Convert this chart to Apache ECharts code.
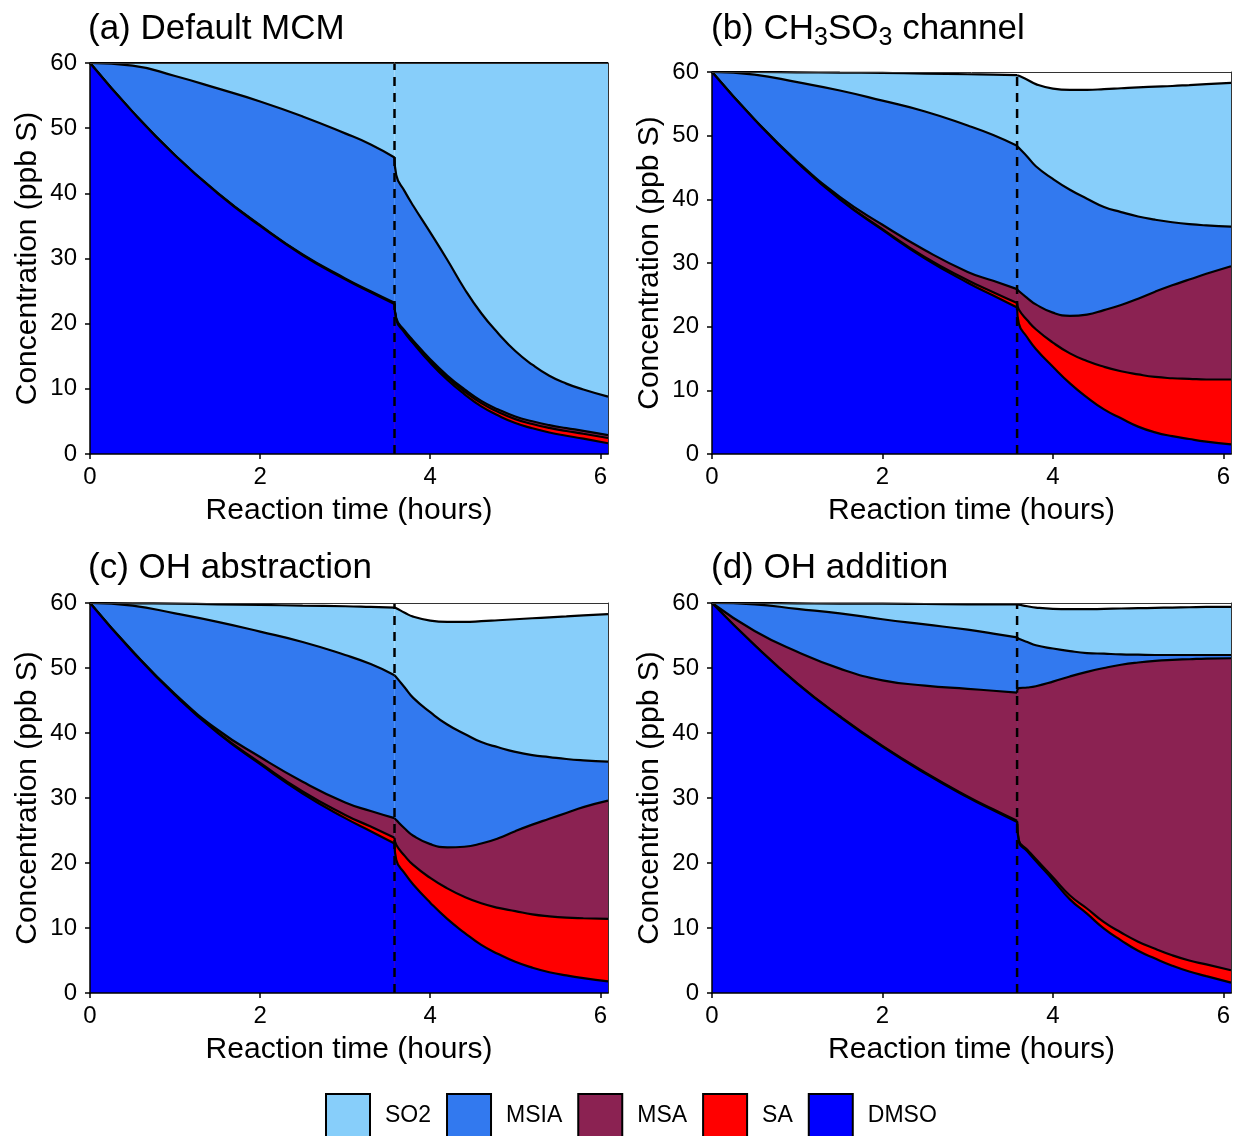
<!DOCTYPE html>
<html><head><meta charset="utf-8">
<script src="https://cdn.jsdelivr.net/npm/echarts@6/dist/echarts.min.js"></script>
<style>html,body{margin:0;padding:0;background:#fff}#c{width:1236px;height:1136px}</style>
</head><body><div id="c"></div>
<script>
// ---- data ----
const hours = [0, 0.5, 1, 1.5, 2, 2.5, 3, 3.3, 3.58, 3.6, 3.7, 3.8, 4.0, 4.2, 4.4, 4.6, 4.8, 5.0, 5.2, 5.4, 5.6, 5.8, 6.09];
const switchTime = 3.58;
const xTicks = [0, 2, 4, 6];
const speciesNames = ['SO2', 'MSIA', 'MSA', 'SA', 'DMSO'];
const panelTitles = ['(a) Default MCM', '(b) CH{s|3}SO{s|3} channel', '(c) OH abstraction', '(d) OH addition'];

// (a) Default MCM
const dmsoA = [60, 52.5, 45.8, 40.0, 35.0, 30.5, 26.8, 24.8, 23.0, 20.6, 18.6, 17.0, 14.0, 11.4, 9.2, 7.3, 5.9, 4.75, 3.95, 3.3, 2.8, 2.35, 1.65];
const saA   = [0, 0, 0, 0, 0, 0, 0, 0, 0.02, 0.05, 0.1, 0.15, 0.25, 0.35, 0.42, 0.5, 0.55, 0.6, 0.65, 0.7, 0.73, 0.76, 0.8];
const msaA  = [0, 0.02, 0.05, 0.08, 0.1, 0.12, 0.15, 0.17, 0.18, 0.2, 0.22, 0.25, 0.28, 0.3, 0.33, 0.35, 0.38, 0.4, 0.42, 0.43, 0.44, 0.45, 0.45];
const msiaA = [0, 7.08, 12.15, 16.02, 19.0, 21.18, 22.25, 22.53, 22.3, 21.95, 21.38, 20.7, 19.47, 17.75, 15.45, 13.45, 11.67, 10.05, 8.68, 7.57, 6.83, 6.34, 5.9];
const so2A  = [0, 0.4, 2.0, 3.9, 5.9, 8.2, 10.8, 12.5, 14.5, 17.2, 19.7, 21.9, 26.0, 30.2, 34.6, 38.4, 41.5, 44.2, 46.3, 48.0, 49.2, 50.1, 51.2];

// (b) CH3SO3 channel
const dmsoB = [60, 52.5, 45.8, 40.0, 35.2, 30.7, 26.9, 24.9, 23.0, 20.5, 18.3, 16.5, 13.7, 11.1, 8.9, 7.0, 5.6, 4.3, 3.4, 2.8, 2.35, 1.95, 1.5];
const saB   = [0, 0, 0, 0.05, 0.1, 0.2, 0.4, 0.5, 0.7, 2.2, 2.7, 3.1, 3.8, 4.7, 5.7, 6.7, 7.4, 8.2, 8.7, 9.1, 9.45, 9.75, 10.2];
const msaB  = [0, 0.05, 0.15, 0.35, 0.7, 1.1, 1.3, 1.8, 2.2, 2.9, 3.5, 3.9, 4.7, 5.9, 7.3, 8.9, 10.4, 11.9, 13.4, 14.6, 15.6, 16.6, 17.8];
const msiaB = [0, 7.05, 12.45, 16.7, 19.5, 21.8, 23.0, 22.9, 22.5, 22.5, 22.2, 21.7, 21.0, 19.8, 18.2, 16.2, 14.6, 12.9, 11.3, 9.9, 8.7, 7.6, 6.2];
const so2B  = [0, 0.4, 1.55, 2.8, 4.35, 5.95, 8.05, 9.5, 11.1, 11.3, 12.1, 12.9, 14.2, 15.7, 17.1, 18.5, 19.45, 20.3, 20.9, 21.4, 21.85, 22.2, 22.6];

// (c) OH abstraction
const dmsoC = [60, 52.5, 45.8, 40.0, 35.2, 30.7, 26.9, 24.9, 23.0, 20.5, 18.4, 16.7, 13.9, 11.4, 9.3, 7.4, 6.0, 4.8, 3.9, 3.2, 2.7, 2.3, 1.8];
const saC   = [0, 0, 0.05, 0.1, 0.2, 0.3, 0.5, 0.7, 0.9, 2.3, 2.7, 3.0, 3.8, 4.7, 5.5, 6.4, 7.1, 7.8, 8.2, 8.6, 8.9, 9.2, 9.6];
const msaC  = [0, 0.1, 0.15, 0.4, 0.9, 1.5, 1.9, 2.4, 3.0, 3.8, 4.2, 4.5, 5.2, 6.3, 7.7, 9.2, 10.7, 12.3, 13.8, 15.0, 16.1, 17.1, 18.2];
const msiaC = [0, 7.0, 12.4, 16.6, 19.3, 21.5, 22.7, 22.6, 22.0, 22.0, 21.7, 21.2, 20.3, 18.9, 17.4, 15.6, 14.0, 12.2, 10.7, 9.5, 8.3, 7.2, 6.0];
const so2C  = [0, 0.35, 1.5, 2.7, 4.1, 5.6, 7.5, 8.8, 10.4, 10.6, 11.5, 12.5, 14.1, 15.8, 17.2, 18.6, 19.55, 20.4, 21.05, 21.5, 21.95, 22.3, 22.7];

// (d) OH addition
const dmsoD = [60, 53.5, 47.6, 42.5, 37.9, 33.8, 30.1, 28.1, 26.3, 23.3, 21.8, 20.3, 17.4, 14.4, 12.2, 9.9, 8.1, 6.5, 5.3, 4.2, 3.3, 2.6, 1.6];
const saD   = [0, 0.02, 0.05, 0.08, 0.1, 0.12, 0.15, 0.17, 0.2, 0.2, 0.25, 0.3, 0.4, 0.6, 0.8, 1.0, 1.2, 1.4, 1.5, 1.6, 1.7, 1.8, 1.9];
const msaD  = [0, 2.18, 4.85, 7.32, 10.1, 13.38, 16.55, 18.23, 19.7, 23.4, 24.95, 26.6, 30.1, 33.7, 36.4, 39.1, 41.2, 42.95, 44.3, 45.45, 46.35, 47.05, 48.0];
const msiaD = [0, 4.1, 6.6, 8.5, 9.4, 9.4, 9.1, 8.8, 8.5, 7.6, 7.0, 6.3, 5.1, 3.9, 2.9, 2.2, 1.6, 1.2, 0.9, 0.75, 0.65, 0.55, 0.5];
const so2D  = [0, 0.2, 0.85, 1.5, 2.4, 3.15, 3.9, 4.5, 5.1, 5.25, 5.5, 5.8, 6.1, 6.45, 6.75, 6.9, 7.05, 7.15, 7.25, 7.3, 7.35, 7.4, 7.4];

// ---- styling ----
const FONT = 'Liberation Sans, Arial, sans-serif';
const speciesColors = { SO2: '#87CEFA', MSIA: '#3279EF', MSA: '#8B2252', SA: '#FF0000', DMSO: '#0000FF' };
const panels = [
  { dmso: dmsoA, sa: saA, msa: msaA, msia: msiaA, so2: so2A },
  { dmso: dmsoB, sa: saB, msa: msaB, msia: msiaB, so2: so2B },
  { dmso: dmsoC, sa: saC, msa: msaC, msia: msiaC, so2: so2C },
  { dmso: dmsoD, sa: saD, msa: msaD, msia: msiaD, so2: so2D }
];
const grids = [
  { left: 90, top: 63, width: 518, height: 391 },
  { left: 712, top: 72, width: 519, height: 382 },
  { left: 90, top: 603, width: 518, height: 390 },
  { left: 712, top: 603, width: 519, height: 390 }
];
const titlePos = [
  { left: 88, top: 12 }, { left: 711, top: 12 }, { left: 88, top: 551 }, { left: 711, top: 551 }
];
const XMAX = 6.09;
const splitIdx = hours.indexOf(switchTime);

const xAxes = [], yAxes = [], series = [], titles = [];
grids.forEach((g, i) => {
  xAxes.push({
    type: 'value', gridIndex: i, min: 0, max: XMAX, interval: 2, z: 10,
    axisLine: { onZero: false, lineStyle: { color: '#000', width: 1.5 } },
    axisTick: { length: 5, customValues: xTicks, lineStyle: { color: '#000', width: 1.5 } },
    axisLabel: { customValues: xTicks, color: '#000', fontSize: 24, fontFamily: FONT, margin: 11,
      formatter: v => (Number.isInteger(v) ? String(v) : '') },
    splitLine: { show: false },
    name: 'Reaction time (hours)', nameLocation: 'middle', nameGap: 42,
    nameTextStyle: { fontSize: 30, color: '#000', fontFamily: FONT }
  });
  xAxes.push({
    type: 'value', gridIndex: i, position: 'top', min: 0, max: XMAX, z: 10,
    axisLine: { onZero: false, lineStyle: { color: '#333', width: 1 } },
    axisTick: { show: false }, axisLabel: { show: false }, splitLine: { show: false }
  });
  yAxes.push({
    type: 'value', gridIndex: i, min: 0, max: 60, interval: 10, z: 10,
    axisLine: { onZero: false, lineStyle: { color: '#000', width: 1.5 } },
    axisTick: { length: 5, lineStyle: { color: '#000', width: 1.5 } },
    axisLabel: { color: '#000', fontSize: 24, fontFamily: FONT, margin: 13 },
    splitLine: { show: false },
    name: 'Concentration (ppb S)', nameLocation: 'middle', nameGap: 47,
    nameTextStyle: { fontSize: 30, color: '#000', fontFamily: FONT }
  });
  yAxes.push({
    type: 'value', gridIndex: i, position: 'right', min: 0, max: 60, z: 10,
    axisLine: { onZero: false, lineStyle: { color: '#333', width: 1 } },
    axisTick: { show: false }, axisLabel: { show: false }, splitLine: { show: false }
  });

  // stack bottom -> top; cumulative tops built from the species arrays
  const p = panels[i];
  const stackOrder = [['DMSO', p.dmso], ['SA', p.sa], ['MSA', p.msa], ['MSIA', p.msia], ['SO2', p.so2]];
  const running = hours.map(() => 0);
  stackOrder.forEach(([name, arr], level) => {
    const tops = running.map((r, k) => (running[k] = +(r + arr[k]).toFixed(3)));
    const pts = hours.map((h, k) => [h, tops[k]]);
    // before and after the switch, drawn as two pieces so the corner at the switch stays sharp
    [pts.slice(0, splitIdx + 1), pts.slice(splitIdx)].forEach(seg => {
      series.push({
        type: 'line', name: name, xAxisIndex: 2 * i, yAxisIndex: 2 * i,
        data: seg,
        symbol: 'none', showSymbol: false, smooth: 0.5,
        lineStyle: { color: '#000', width: 2.2 },
        areaStyle: { color: speciesColors[name], opacity: 1, origin: 'start' },
        itemStyle: { color: speciesColors[name] },
        z: 8 - level, silent: true, emphasis: { disabled: true }
      });
    });
  });
  series.push({
    type: 'line', name: 'switch' + i, xAxisIndex: 2 * i, yAxisIndex: 2 * i,
    data: [[switchTime, 0], [switchTime, 60]],
    symbol: 'none', lineStyle: { color: '#000', width: 2.5, type: [9, 7] }, z: 9, silent: true
  });

  titles.push({
    text: panelTitles[i], left: titlePos[i].left, top: titlePos[i].top, padding: 0,
    textStyle: {
      fontSize: 35, fontWeight: 'normal', color: '#000', fontFamily: FONT,
      rich: { s: { fontSize: 25, fontFamily: FONT, color: '#000', verticalAlign: 'bottom', padding: [0, 0, -4, 0] } }
    }
  });
});

const chart = echarts.init(document.getElementById('c'), null, { renderer: 'canvas' });
chart.setOption({
  animation: false,
  backgroundColor: '#fff',
  title: titles,
  grid: grids,
  xAxis: xAxes,
  yAxis: yAxes,
  legend: {
    data: speciesNames, left: 325, top: 1093, padding: 0, itemWidth: 44, itemHeight: 44, itemGap: 15,
    icon: 'rect', selectedMode: false,
    itemStyle: { borderColor: '#000', borderWidth: 2 },
    textStyle: { fontSize: 23, color: '#000', fontFamily: FONT, padding: [0, 0, 0, 10] }
  },
  series: series
});
</script></body></html>
